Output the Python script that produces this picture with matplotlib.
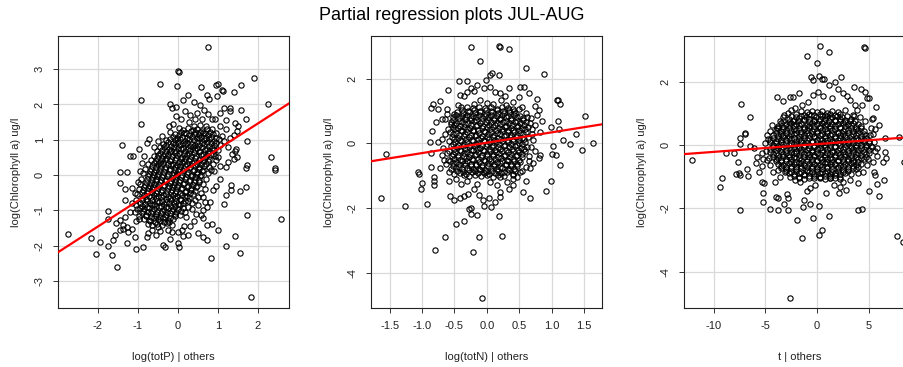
import numpy as np
import matplotlib
matplotlib.use("Agg")
import matplotlib.pyplot as plt

plt.rcParams['font.family'] = ['Liberation Sans', 'DejaVu Sans']
plt.rcParams['axes.unicode_minus'] = False

TITLE = "Partial regression plots JUL-AUG"
Y_LABEL = "log(Chlorophyll a) ug/l"

# fitted partial regression lines: (intercept, slope)
TOTP_FIT = (0.0, 0.73)
TOTN_FIT = (0.02, 0.32)
T_FIT = (0.025, 0.0245)

# residual pairs (x | others, log chl | others)
totp_pts = [
    # upper tail
    (0.76, 3.63), (0.01, 2.96), (0.03, 2.93), (1.91, 2.74), (-0.45, 2.57), (-0.03, 2.53), (0.59, 2.50),
    (0.96, 2.55), (1.00, 2.57), (1.59, 2.56), (-0.93, 2.12), (2.25, 2.01), (0.12, 2.12), (-0.20, 2.02),
    (-0.16, 1.89), (-0.04, 1.92), (0.26, 2.26), (0.72, 2.26), (0.78, 2.15), (0.97, 2.25), (1.10, 2.40),
    (1.14, 2.38), (1.41, 2.35), (1.15, 1.90), (1.30, 1.90), (1.30, 1.82), (1.59, 1.85), (1.70, 1.58),
    (1.73, 0.97), (2.33, 0.52), (2.43, 0.20), (-1.41, 0.84), (-0.93, 1.44), (-0.72, 1.03), (-0.77, 0.90),
    (-1.19, 0.55), (-1.13, 0.55), (-0.98, 0.74), (-0.22, 1.38), (-0.12, 1.44), (-0.20, 1.23), (0.08, 1.58),
    (0.27, 1.49), (0.43, 1.60), (0.60, 1.58), (0.85, 1.60), (0.93, 1.60), (1.43, 1.46), (1.50, 1.38),
    (1.47, 1.25), (1.40, 1.12), (0.40, 2.08), (0.55, 1.98), (0.48, 1.75), (0.30, 1.70), (0.18, 1.80),
    (-0.05, 1.68), (0.65, 1.85), (0.75, 1.72), (1.05, 1.75), (1.20, 1.55), (1.05, 1.40), (1.20, 1.30),
    (1.30, 1.05), (1.45, 0.75), (1.43, 0.68), (1.40, 0.45), (1.48, 0.50), (1.25, 0.80), (1.15, 0.95),
    (1.35, 0.60),
    # right / lower tail
    (1.20, 0.23), (1.25, 0.37), (1.70, 0.20), (1.74, 0.28), (2.42, 0.14), (1.70, -0.33), (1.56, -0.46),
    (1.33, -0.29), (1.33, -0.43), (1.16, -0.82), (1.20, -0.58), (1.74, -1.13), (2.57, -1.24), (1.83, -3.46),
    (0.83, -2.36), (1.20, -2.00), (1.55, -2.20), (1.44, -1.72), (1.01, -1.57), (0.89, -0.42), (0.95, -0.30),
    (1.05, -0.10), (0.90, 0.10), (1.05, 0.25), (1.00, 0.50), (0.63, -0.61), (0.68, -0.76), (0.80, -0.76),
    (0.72, -0.90), (0.63, -0.99), (0.59, -1.13), (0.63, -1.23), (0.72, -1.42), (0.63, -1.75), (0.72, -1.84),
    (0.51, -1.63), (0.26, -1.70), (0.01, -1.61), (-0.24, -1.56), (-0.49, -1.46), (-0.66, -1.56),
    (-0.74, -1.65), (-0.78, -1.77), (0.40, -1.30), (0.30, -1.45), (0.45, -1.10), (0.35, -0.95), (0.50, -0.85),
    (0.85, -1.38), (0.20, -1.20), (0.15, -1.45),
    # left tail
    (-2.74, -1.67), (-2.18, -1.79), (-2.05, -2.25), (-1.95, -1.89), (-1.74, -2.00), (-1.66, -2.27),
    (-1.53, -2.61), (-1.74, -1.02), (-1.76, -1.25), (-1.06, -2.10), (-0.87, -2.03), (-0.37, -1.99),
    (-0.33, -2.05), (0.03, -2.05), (-0.20, -1.82), (0.00, -1.92), (0.13, -1.73), (-1.08, -1.75),
    (-1.24, -1.61), (-1.37, -1.52), (-1.45, -1.56), (-1.58, -1.70), (-1.62, -1.84), (-1.28, -1.93),
    (-1.37, -1.42), (-1.28, -1.46), (-1.16, -1.52), (-1.45, -1.28), (-1.55, -1.37), (-1.45, 0.08),
    (-1.28, 0.09), (-1.45, -0.24), (-1.33, -0.41), (-1.16, -0.38), (-1.08, -0.52), (-1.33, -0.71),
    (-1.16, -0.80), (-1.20, -1.04), (-1.33, -1.18), (-1.05, -1.30), (-1.00, -0.20), (-0.95, 0.10),
    (-0.90, 0.35), (-0.85, 0.55), (-0.60, 0.80), (-0.50, 0.95), (-0.40, 1.10), (-0.55, -1.70), (-0.45, -1.60),
    (-0.15, -1.62), (0.10, -1.55), (-1.02, -0.95), (-1.05, -0.70), (-0.98, -1.15),
    # around the centre
    (0.62, -0.25), (0.70, -0.10), (0.75, 0.05), (0.82, 0.15), (0.68, -0.40), (0.58, -0.50), (0.50, -0.62),
    (0.42, -0.72), (0.35, -0.80), (0.25, -0.90), (0.88, 0.30), (0.95, 0.42), (0.92, 0.55), (1.00, 0.70),
    (1.05, 0.85), (1.10, 1.10), (0.95, 1.20), (0.85, 1.30), (0.70, 1.40), (0.55, 1.42), (0.40, 1.38),
    (-0.30, 1.00), (-0.38, 0.88), (-0.45, 0.80), (-0.52, 0.68), (-0.60, 0.55), (-0.68, 0.42), (-0.75, 0.30),
    (-0.82, 0.18), (-0.88, 0.05), (-0.92, -0.10), (-0.95, -0.25), (-0.98, -0.40), (-1.02, -0.55),
    (-1.05, -0.85), (-1.08, -1.05), (-0.98, -1.25), (0.18, -1.05), (0.25, -0.75), (0.38, -0.55),
    # dense centre
    (0.02, 1.32), (0.14, 1.27), (0.26, 1.33), (0.37, 1.28), (0.49, 1.31), (0.61, 1.26), (0.73, 1.30),
    (0.08, 1.23), (0.20, 1.20), (0.32, 1.24), (0.44, 1.21), (0.56, 1.22), (0.68, 1.19), (0.80, 1.23),
    (-0.08, 1.17), (0.04, 1.13), (0.16, 1.18), (0.28, 1.12), (0.40, 1.16), (0.52, 1.14), (0.64, 1.19),
    (0.76, 1.12), (0.88, 1.16),
    (-0.13, 1.08), (-0.01, 1.05), (0.11, 1.09), (0.23, 1.06), (0.35, 1.07), (0.47, 1.04), (0.59, 1.08),
    (0.71, 1.06), (0.83, 1.09), (0.95, 1.05),
    (-0.19, 1.02), (-0.07, 0.98), (0.05, 1.03), (0.17, 0.97), (0.29, 1.01), (0.41, 0.99), (0.53, 1.04),
    (0.65, 0.98), (0.77, 1.02), (0.90, 0.97), (1.02, 1.01),
    (-0.24, 0.93), (-0.12, 0.90), (0.00, 0.94), (0.12, 0.91), (0.24, 0.92), (0.36, 0.89), (0.48, 0.93),
    (0.60, 0.91), (0.72, 0.94), (0.84, 0.90), (0.96, 0.92),
    (-0.30, 0.86), (-0.18, 0.83), (-0.06, 0.88), (0.06, 0.84), (0.18, 0.87), (0.30, 0.82), (0.42, 0.86),
    (0.54, 0.84), (0.66, 0.88), (0.78, 0.83), (0.90, 0.86),
    (-0.35, 0.78), (-0.23, 0.75), (-0.11, 0.79), (0.01, 0.76), (0.13, 0.77), (0.25, 0.74), (0.37, 0.78),
    (0.49, 0.76), (0.61, 0.79), (0.73, 0.75), (0.85, 0.77),
    (-0.41, 0.71), (-0.29, 0.68), (-0.17, 0.72), (-0.05, 0.69), (0.07, 0.73), (0.19, 0.67), (0.31, 0.71),
    (0.43, 0.70), (0.55, 0.68), (0.67, 0.72), (0.79, 0.69), (0.91, 0.71),
    (-0.44, 0.63), (-0.32, 0.60), (-0.20, 0.64), (-0.08, 0.61), (0.04, 0.62), (0.16, 0.59), (0.28, 0.63),
    (0.40, 0.61), (0.52, 0.64), (0.64, 0.60), (0.76, 0.62), (0.88, 0.60),
    (-0.50, 0.56), (-0.38, 0.53), (-0.26, 0.57), (-0.14, 0.54), (-0.02, 0.58), (0.10, 0.52), (0.22, 0.56),
    (0.34, 0.55), (0.46, 0.53), (0.58, 0.57), (0.70, 0.54), (0.82, 0.56),
    (-0.53, 0.48), (-0.41, 0.45), (-0.29, 0.49), (-0.17, 0.46), (-0.05, 0.47), (0.07, 0.44), (0.19, 0.48),
    (0.31, 0.46), (0.43, 0.49), (0.55, 0.45), (0.67, 0.47), (0.79, 0.45),
    (-0.56, 0.41), (-0.44, 0.38), (-0.32, 0.42), (-0.20, 0.39), (-0.08, 0.43), (0.04, 0.37), (0.16, 0.41),
    (0.28, 0.40), (0.40, 0.38), (0.52, 0.42), (0.64, 0.39), (0.76, 0.41),
    (-0.61, 0.33), (-0.49, 0.30), (-0.37, 0.34), (-0.25, 0.31), (-0.13, 0.32), (-0.01, 0.29), (0.11, 0.33),
    (0.23, 0.31), (0.35, 0.34), (0.47, 0.30), (0.59, 0.32), (0.71, 0.30),
    (-0.66, 0.26), (-0.54, 0.23), (-0.42, 0.27), (-0.30, 0.24), (-0.18, 0.28), (-0.06, 0.22), (0.06, 0.26),
    (0.18, 0.25), (0.30, 0.23), (0.42, 0.27), (0.54, 0.24), (0.66, 0.26), (0.78, 0.22),
    (-0.68, 0.18), (-0.56, 0.15), (-0.44, 0.19), (-0.32, 0.16), (-0.20, 0.17), (-0.08, 0.14), (0.04, 0.18),
    (0.16, 0.16), (0.28, 0.19), (0.40, 0.15), (0.52, 0.17), (0.64, 0.15),
    (-0.71, 0.11), (-0.59, 0.08), (-0.47, 0.12), (-0.35, 0.09), (-0.23, 0.13), (-0.11, 0.07), (0.01, 0.11),
    (0.13, 0.10), (0.25, 0.08), (0.37, 0.12), (0.49, 0.09), (0.61, 0.11),
    (-0.73, 0.03), (-0.61, 0.00), (-0.49, 0.04), (-0.37, 0.01), (-0.25, 0.02), (-0.13, -0.01), (-0.01, 0.03),
    (0.11, 0.01), (0.23, 0.04), (0.35, 0.00), (0.47, 0.02), (0.59, 0.00),
    (-0.76, -0.04), (-0.64, -0.07), (-0.52, -0.03), (-0.40, -0.06), (-0.28, -0.02), (-0.16, -0.08),
    (-0.04, -0.04), (0.08, -0.05), (0.20, -0.07), (0.32, -0.03), (0.44, -0.06), (0.56, -0.04),
    (-0.78, -0.12), (-0.66, -0.15), (-0.54, -0.11), (-0.42, -0.14), (-0.30, -0.13), (-0.18, -0.16),
    (-0.06, -0.12), (0.06, -0.14), (0.18, -0.11), (0.30, -0.15), (0.42, -0.13), (0.54, -0.15),
    (-0.80, -0.19), (-0.68, -0.22), (-0.56, -0.18), (-0.44, -0.21), (-0.32, -0.17), (-0.20, -0.23),
    (-0.08, -0.19), (0.04, -0.20), (0.16, -0.22), (0.28, -0.18), (0.40, -0.21), (0.52, -0.19),
    (-0.83, -0.27), (-0.71, -0.30), (-0.59, -0.26), (-0.47, -0.29), (-0.35, -0.28), (-0.23, -0.31),
    (-0.11, -0.27), (0.01, -0.29), (0.13, -0.26), (0.25, -0.30), (0.37, -0.28), (0.49, -0.30),
    (-0.86, -0.34), (-0.74, -0.37), (-0.62, -0.33), (-0.50, -0.36), (-0.38, -0.32), (-0.26, -0.38),
    (-0.14, -0.34), (-0.02, -0.35), (0.10, -0.37), (0.22, -0.33), (0.34, -0.36), (0.46, -0.34),
    (-0.88, -0.42), (-0.76, -0.45), (-0.64, -0.41), (-0.52, -0.44), (-0.40, -0.43), (-0.28, -0.46),
    (-0.16, -0.42), (-0.04, -0.44), (0.08, -0.41), (0.20, -0.45), (0.32, -0.43), (0.42, -0.45),
    (-0.90, -0.49), (-0.78, -0.52), (-0.66, -0.48), (-0.54, -0.51), (-0.42, -0.47), (-0.30, -0.53),
    (-0.18, -0.49), (-0.06, -0.50), (0.06, -0.52), (0.18, -0.48), (0.30, -0.51),
    (-0.85, -0.57), (-0.73, -0.60), (-0.61, -0.56), (-0.49, -0.59), (-0.37, -0.58), (-0.25, -0.61),
    (-0.13, -0.57), (-0.01, -0.59), (0.11, -0.56), (0.23, -0.60),
    (-0.91, -0.64), (-0.79, -0.67), (-0.67, -0.63), (-0.55, -0.66), (-0.43, -0.62), (-0.31, -0.68),
    (-0.19, -0.64), (-0.07, -0.65), (0.05, -0.67), (0.17, -0.63), (0.29, -0.66),
    (-0.89, -0.72), (-0.77, -0.75), (-0.65, -0.71), (-0.53, -0.74), (-0.41, -0.73), (-0.29, -0.76),
    (-0.17, -0.72), (-0.05, -0.74), (0.07, -0.71), (0.19, -0.75),
    (-0.95, -0.79), (-0.83, -0.82), (-0.71, -0.78), (-0.59, -0.81), (-0.47, -0.77), (-0.35, -0.83),
    (-0.23, -0.79), (-0.11, -0.80), (0.01, -0.82), (0.13, -0.78),
    (-0.90, -0.87), (-0.78, -0.90), (-0.66, -0.86), (-0.54, -0.89), (-0.42, -0.88), (-0.30, -0.91),
    (-0.18, -0.87), (-0.06, -0.89), (0.06, -0.86),
    (-0.96, -0.94), (-0.84, -0.97), (-0.72, -0.93), (-0.60, -0.96), (-0.48, -0.92), (-0.36, -0.98),
    (-0.24, -0.94), (-0.12, -0.95), (0.00, -0.97), (0.12, -0.93),
    (-0.88, -1.02), (-0.76, -1.05), (-0.64, -1.01), (-0.52, -1.04), (-0.40, -1.03), (-0.28, -1.06),
    (-0.16, -1.02), (-0.04, -1.04), (0.08, -1.01),
    (-0.91, -1.09), (-0.79, -1.12), (-0.67, -1.08), (-0.55, -1.11), (-0.43, -1.07), (-0.31, -1.13),
    (-0.19, -1.09), (-0.07, -1.10), (0.05, -1.12),
    (-0.80, -1.17), (-0.68, -1.20), (-0.56, -1.16), (-0.44, -1.19), (-0.32, -1.18), (-0.20, -1.21),
    (-0.08, -1.17),
    (-0.85, -1.24), (-0.73, -1.27), (-0.61, -1.23), (-0.49, -1.26), (-0.37, -1.22), (-0.25, -1.28),
    (-0.13, -1.24),
    (-0.70, -1.31), (-0.58, -1.34), (-0.46, -1.30), (-0.34, -1.33), (-0.22, -1.32),
    (-0.76, -1.39), (-0.64, -1.42), (-0.52, -1.38), (-0.40, -1.41), (-0.28, -1.37), (-0.16, -1.43),
]

totn_pts = [
    (-0.25, 2.99), (0.19, 3.00), (0.20, 2.98), (0.34, 2.91), (-0.10, 2.55), (0.60, 2.32), (0.89, 2.14),
    (0.19, 2.11), (0.08, 2.18), (0.05, 2.11), (-0.43, 1.93), (-0.31, 1.93), (-0.02, 1.96), (-0.60, 1.65),
    (-0.76, 1.05), (-0.87, 1.08), (-0.83, 1.22), (-0.73, 1.32), (-0.62, 1.07), (-0.70, 0.75), (-0.78, 0.65),
    (-0.85, 0.37), (-0.88, 0.03), (-1.56, -0.33), (-1.64, -1.70), (-1.27, -1.93), (-0.93, -1.87),
    (-1.06, -0.90), (-1.05, -0.95), (-1.00, -1.24), (-1.01, -1.41), (-0.81, -1.03), (-0.82, -1.16),
    (-0.81, -1.29), (-0.87, -0.31), (-0.86, -0.72), (-0.72, -0.77), (-0.80, -3.30), (-0.65, -2.91),
    (-0.47, -2.49), (-0.36, -2.39), (-0.22, -3.36), (-0.12, -2.88), (0.23, -2.85), (0.19, -2.23),
    (-0.08, -4.77), (-0.25, -2.19), (-0.15, -2.20), (-0.27, -2.04), (-0.25, -1.99), (-0.05, -1.94),
    (-0.06, -1.75), (0.03, -1.68), (0.06, -1.96), (0.12, -1.80), (0.20, -1.65), (0.20, -1.49),
    (-0.50, -1.75), (-0.42, -1.68), (-0.35, -1.62), (-0.57, -1.63), (-0.29, -1.55), (-0.12, -1.60),
    (0.56, -1.49), (0.66, -1.70), (0.92, -1.46), (0.99, -1.15), (0.60, -1.15), (0.41, -1.29), (0.31, -1.19),
    (1.13, -0.66), (1.07, -0.36), (1.01, -0.33), (1.02, -0.07), (1.17, 0.10), (1.28, -0.03), (1.47, -0.20),
    (1.64, 0.00), (1.38, 0.28), (1.52, 0.85), (1.10, 0.68), (1.11, 0.43), (0.99, 0.52), (1.09, 1.35),
    (1.10, 1.33), (1.13, 1.22), (0.65, 1.57), (0.77, 1.37), (0.74, 1.15), (0.81, 1.03), (0.77, 0.87),
    (0.86, 0.70), (0.51, 1.74), (0.58, 1.74), (0.34, 1.72), (0.49, 1.42), (0.41, 1.27), (0.54, 1.12),
    (0.62, 0.82), (0.75, 0.57), (0.82, 0.36), (0.80, -0.46), (0.82, -0.36), (0.72, -0.62), (0.67, -0.75),
    (0.51, -0.88), (0.41, -0.98), (0.46, -1.03), (0.21, -1.03),
    (-0.55, 0.60), (-0.60, 0.45), (-0.65, 0.30), (-0.70, 0.15), (-0.75, 0.05), (-0.68, -0.15),
    (-0.70, -0.35), (-0.60, -0.50), (-0.63, -0.65), (-0.55, -0.80), (-0.58, -1.15), (-0.48, -1.10),
    (-0.45, 1.20), (-0.50, 0.90), (-0.42, 1.50), (-0.35, 1.45), (-0.30, 1.60), (-0.25, 1.70), (-0.20, 1.62),
    (-0.15, 1.80), (-0.05, 1.70), (0.05, 1.75), (0.12, 1.58), (0.20, 1.55), (0.28, 1.45), (0.22, 1.35),
    (0.70, 0.30), (0.72, 0.10), (0.68, -0.10), (0.75, -0.25), (0.70, 0.45), (0.65, -0.40), (-0.10, 1.35),
    (0.00, 1.25), (0.40, 1.05), (-0.40, -1.25), (-0.30, -1.15), (-0.15, -1.25), (0.05, -1.20), (0.15, -1.30),
    (-0.20, -1.40), (0.35, -1.40),
    # around the centre
    (-0.62, 0.90), (-0.64, 0.75), (-0.62, -0.30), (-0.66, -0.50), (0.66, 0.62), (0.68, 0.80), (0.60, 0.95),
    (0.50, 1.05), (0.65, -0.55), (0.60, -0.72), (0.55, -0.85), (-0.50, -0.95), (-0.58, -0.90), (0.40, -1.10),
    (0.30, 1.20), (-0.40, 1.12), (0.10, 1.22), (-0.20, 1.22),
    # dense centre
    (-0.30, 1.12), (-0.21, 1.08), (-0.12, 1.13), (-0.03, 1.09), (0.06, 1.11), (0.15, 1.07), (0.24, 1.12),
    (0.33, 1.09),
    (-0.38, 1.03), (-0.29, 1.00), (-0.20, 1.04), (-0.11, 1.01), (-0.02, 1.02), (0.07, 0.99), (0.16, 1.03),
    (0.25, 1.01), (0.34, 1.04), (0.42, 1.00),
    (-0.46, 0.96), (-0.37, 0.93), (-0.28, 0.97), (-0.19, 0.94), (-0.10, 0.98), (-0.01, 0.92), (0.08, 0.96),
    (0.17, 0.95), (0.26, 0.93), (0.35, 0.97), (0.44, 0.94),
    (-0.48, 0.88), (-0.39, 0.85), (-0.30, 0.89), (-0.21, 0.86), (-0.12, 0.87), (-0.03, 0.84), (0.06, 0.88),
    (0.15, 0.86), (0.24, 0.89), (0.33, 0.85), (0.42, 0.87), (0.51, 0.85),
    (-0.52, 0.81), (-0.43, 0.78), (-0.34, 0.82), (-0.25, 0.79), (-0.16, 0.83), (-0.07, 0.77), (0.02, 0.81),
    (0.11, 0.80), (0.20, 0.78), (0.29, 0.82), (0.38, 0.79), (0.47, 0.81), (0.56, 0.77),
    (-0.52, 0.73), (-0.43, 0.70), (-0.34, 0.74), (-0.25, 0.71), (-0.16, 0.72), (-0.07, 0.69), (0.02, 0.73),
    (0.11, 0.71), (0.20, 0.74), (0.29, 0.70), (0.38, 0.72), (0.47, 0.70), (0.56, 0.73),
    (-0.56, 0.66), (-0.47, 0.63), (-0.38, 0.67), (-0.29, 0.64), (-0.20, 0.68), (-0.11, 0.62), (-0.02, 0.66),
    (0.07, 0.65), (0.16, 0.63), (0.25, 0.67), (0.34, 0.64), (0.43, 0.66), (0.52, 0.62), (0.61, 0.65),
    (-0.51, 0.58), (-0.42, 0.55), (-0.33, 0.59), (-0.24, 0.56), (-0.15, 0.57), (-0.06, 0.54), (0.03, 0.58),
    (0.12, 0.56), (0.21, 0.59), (0.30, 0.55), (0.39, 0.57), (0.48, 0.55), (0.57, 0.58),
    (-0.53, 0.51), (-0.44, 0.48), (-0.35, 0.52), (-0.26, 0.49), (-0.17, 0.53), (-0.08, 0.47), (0.01, 0.51),
    (0.10, 0.50), (0.19, 0.48), (0.28, 0.52), (0.37, 0.49), (0.46, 0.51), (0.55, 0.47), (0.64, 0.50),
    (-0.49, 0.43), (-0.40, 0.40), (-0.31, 0.44), (-0.22, 0.41), (-0.13, 0.42), (-0.04, 0.39), (0.05, 0.43),
    (0.14, 0.41), (0.23, 0.44), (0.32, 0.40), (0.41, 0.42), (0.50, 0.40), (0.59, 0.43),
    (-0.57, 0.36), (-0.48, 0.33), (-0.39, 0.37), (-0.30, 0.34), (-0.21, 0.38), (-0.12, 0.32), (-0.03, 0.36),
    (0.06, 0.35), (0.15, 0.33), (0.24, 0.37), (0.33, 0.34), (0.42, 0.36), (0.51, 0.32), (0.60, 0.35),
    (-0.52, 0.28), (-0.43, 0.25), (-0.34, 0.29), (-0.25, 0.26), (-0.16, 0.27), (-0.07, 0.24), (0.02, 0.28),
    (0.11, 0.26), (0.20, 0.29), (0.29, 0.25), (0.38, 0.27), (0.47, 0.25), (0.56, 0.28),
    (-0.54, 0.21), (-0.45, 0.18), (-0.36, 0.22), (-0.27, 0.19), (-0.18, 0.23), (-0.09, 0.17), (0.00, 0.21),
    (0.09, 0.20), (0.18, 0.18), (0.27, 0.22), (0.36, 0.19), (0.45, 0.21), (0.54, 0.17), (0.63, 0.20),
    (-0.50, 0.13), (-0.41, 0.10), (-0.32, 0.14), (-0.23, 0.11), (-0.14, 0.12), (-0.05, 0.09), (0.04, 0.13),
    (0.13, 0.11), (0.22, 0.14), (0.31, 0.10), (0.40, 0.12), (0.49, 0.10), (0.58, 0.13),
    (-0.58, 0.06), (-0.49, 0.03), (-0.40, 0.07), (-0.31, 0.04), (-0.22, 0.08), (-0.13, 0.02), (-0.04, 0.06),
    (0.05, 0.05), (0.14, 0.03), (0.23, 0.07), (0.32, 0.04), (0.41, 0.06), (0.50, 0.02), (0.59, 0.05),
    (-0.53, -0.02), (-0.44, -0.05), (-0.35, -0.01), (-0.26, -0.04), (-0.17, -0.03), (-0.08, -0.06),
    (0.01, -0.02), (0.10, -0.04), (0.19, -0.01), (0.28, -0.05), (0.37, -0.03), (0.46, -0.05), (0.55, -0.02),
    (-0.55, -0.09), (-0.46, -0.12), (-0.37, -0.08), (-0.28, -0.11), (-0.19, -0.07), (-0.10, -0.13),
    (-0.01, -0.09), (0.08, -0.10), (0.17, -0.12), (0.26, -0.08), (0.35, -0.11), (0.44, -0.09), (0.53, -0.13),
    (0.62, -0.10),
    (-0.51, -0.17), (-0.42, -0.20), (-0.33, -0.16), (-0.24, -0.19), (-0.15, -0.18), (-0.06, -0.21),
    (0.03, -0.17), (0.12, -0.19), (0.21, -0.16), (0.30, -0.20), (0.39, -0.18), (0.48, -0.20), (0.57, -0.17),
    (-0.58, -0.24), (-0.49, -0.27), (-0.40, -0.23), (-0.31, -0.26), (-0.22, -0.22), (-0.13, -0.28),
    (-0.04, -0.24), (0.05, -0.25), (0.14, -0.27), (0.23, -0.23), (0.32, -0.26), (0.41, -0.24), (0.50, -0.28),
    (0.59, -0.25),
    (-0.53, -0.32), (-0.44, -0.35), (-0.35, -0.31), (-0.26, -0.34), (-0.17, -0.33), (-0.08, -0.36),
    (0.01, -0.32), (0.10, -0.34), (0.19, -0.31), (0.28, -0.35), (0.37, -0.33), (0.46, -0.35), (0.55, -0.32),
    (-0.54, -0.39), (-0.45, -0.42), (-0.36, -0.38), (-0.27, -0.41), (-0.18, -0.37), (-0.09, -0.43),
    (0.00, -0.39), (0.09, -0.40), (0.18, -0.42), (0.27, -0.38), (0.36, -0.41), (0.45, -0.39), (0.54, -0.43),
    (-0.50, -0.47), (-0.41, -0.50), (-0.32, -0.46), (-0.23, -0.49), (-0.14, -0.48), (-0.05, -0.51),
    (0.04, -0.47), (0.13, -0.49), (0.22, -0.46), (0.31, -0.50), (0.40, -0.48), (0.49, -0.50),
    (-0.57, -0.54), (-0.48, -0.57), (-0.39, -0.53), (-0.30, -0.56), (-0.21, -0.52), (-0.12, -0.58),
    (-0.03, -0.54), (0.06, -0.55), (0.15, -0.57), (0.24, -0.53), (0.33, -0.56), (0.42, -0.54), (0.51, -0.58),
    (-0.52, -0.62), (-0.43, -0.65), (-0.34, -0.61), (-0.25, -0.64), (-0.16, -0.63), (-0.07, -0.66),
    (0.02, -0.62), (0.11, -0.64), (0.20, -0.61), (0.29, -0.65), (0.38, -0.63), (0.47, -0.65),
    (-0.52, -0.69), (-0.43, -0.72), (-0.34, -0.68), (-0.25, -0.71), (-0.16, -0.67), (-0.07, -0.73),
    (0.02, -0.69), (0.11, -0.70), (0.20, -0.72), (0.29, -0.68), (0.38, -0.71), (0.47, -0.69),
    (-0.48, -0.77), (-0.39, -0.80), (-0.30, -0.76), (-0.21, -0.79), (-0.12, -0.78), (-0.03, -0.81),
    (0.06, -0.77), (0.15, -0.79), (0.24, -0.76), (0.33, -0.80), (0.42, -0.78),
    (-0.46, -0.84), (-0.37, -0.87), (-0.28, -0.83), (-0.19, -0.86), (-0.10, -0.82), (-0.01, -0.88),
    (0.08, -0.84), (0.17, -0.85), (0.26, -0.87), (0.35, -0.83), (0.44, -0.86),
    (-0.41, -0.91), (-0.32, -0.94), (-0.23, -0.90), (-0.14, -0.93), (-0.05, -0.92), (0.04, -0.95),
    (0.13, -0.91), (0.22, -0.93), (0.31, -0.90), (0.40, -0.94),
    (-0.36, -0.99), (-0.27, -1.02), (-0.18, -0.98), (-0.09, -1.01), (0.00, -0.97), (0.09, -1.03),
    (0.18, -0.99), (0.27, -1.00),
]

t_pts = [
    (0.32, 3.11), (4.65, 3.07), (4.58, 3.09), (1.13, 2.95), (-0.94, 2.81), (0.03, 2.58), (0.23, 2.19),
    (-0.58, 2.13), (-0.35, 2.05), (0.52, 2.08), (0.71, 2.08), (2.32, 2.14), (1.16, 1.89), (1.77, 2.00),
    (2.06, 1.76), (3.58, 1.84), (4.23, 1.76), (4.68, 1.68), (4.84, 1.49), (5.00, 1.49), (5.68, 1.19),
    (4.39, 1.26), (-3.84, 1.51), (-3.32, 1.39), (-2.60, 1.51), (-2.30, 1.51), (-1.71, 1.65), (-7.35, 1.28),
    (-6.45, 0.88), (-7.00, 0.38), (-6.94, 0.36), (-7.48, 0.23), (-7.42, 0.02), (-8.06, -0.24),
    (-8.81, -0.25), (-12.10, -0.48), (-7.68, -0.55), (-7.55, -0.89), (-7.81, -0.93), (-7.42, -0.95),
    (-6.74, -0.77), (-6.65, -0.98), (-9.19, -1.05), (-9.42, -1.33), (-7.48, -2.06), (-6.48, -0.02),
    (-6.06, -0.11), (-5.35, -0.26), (-5.84, -0.37), (-5.90, -0.58), (-5.19, -0.46), (-5.29, -0.66),
    (-5.65, -0.84), (-5.32, -1.16), (-5.13, -1.19), (-5.23, -1.53), (-5.23, -1.80), (-4.52, -2.01),
    (-3.74, -2.07), (-4.03, -1.16), (-4.00, -1.66), (-3.74, -1.68), (-3.19, -1.87), (-2.87, -1.56),
    (-2.77, -1.68), (-2.84, -2.05), (-1.90, -2.38), (-1.48, -2.95), (-2.61, -4.82), (-1.26, -1.74),
    (-1.35, -1.95), (-0.68, -1.85), (-0.39, -2.32), (0.16, -1.93), (0.23, -2.86), (0.48, -2.69),
    (1.16, -2.25), (0.84, -1.53), (2.10, -1.51), (2.77, -1.41), (4.00, -1.19), (4.00, -2.07), (4.32, -2.02),
    (5.00, -1.44), (5.55, -0.85), (5.61, -0.95), (5.84, -1.24), (6.03, -1.62), (6.52, -1.12), (6.58, -0.21),
    (6.68, -0.42), (6.35, -0.53), (6.03, 0.63), (6.61, 0.21), (7.94, 0.24), (7.71, -2.87), (8.35, -3.08),
    (8.40, -0.55), (5.45, 0.86), (5.29, 0.81), (5.61, 0.51), (5.13, 0.32), (5.29, -0.05), (5.77, -0.11),
    (5.84, -0.35), (5.45, -0.53), (4.81, -0.63), (4.48, -0.84), (4.00, -0.89), (3.19, -1.10), (2.55, -1.16),
    (2.23, -1.32), (1.65, -1.26), (1.26, -1.05), (0.29, -1.05), (-0.19, -1.26), (-0.68, -1.37),
    (-1.00, -1.47), (-1.65, -1.16), (-2.13, -1.10), (-2.61, -1.00), (-3.10, -0.84), (-3.58, -1.00),
    (-4.23, -0.84), (-4.55, -0.63), (-4.87, -0.47), (-4.87, 0.32), (-4.55, 0.44), (-4.39, 0.63),
    (-3.90, 0.53), (-3.58, 0.74), (-3.26, 0.89), (-2.77, 1.00), (-2.13, 1.16), (-1.48, 1.26), (-0.84, 1.37),
    (-0.35, 1.58), (0.13, 1.68), (0.61, 1.53), (1.42, 1.47), (2.55, 1.63), (2.87, 1.53), (3.19, 1.42),
    (3.68, 1.26), (3.84, 1.11), (4.16, 0.89), (4.65, 0.74), (3.52, 0.95),
    # around the centre
    (-5.00, 0.05), (-4.90, -0.20), (-4.70, 0.20), (5.50, 0.10), (5.60, -0.20), (5.40, 0.35), (5.20, 0.55),
    (-4.60, -0.40), (4.90, -0.45), (-3.20, 0.95), (3.60, 0.90), (-3.80, -0.80), (3.80, -0.75), (-2.50, 1.10),
    (2.70, 1.10),
    # dense centre
    (-1.50, 1.06), (-1.00, 1.03), (-0.50, 1.07), (0.00, 1.04), (0.50, 1.08), (1.00, 1.02), (1.50, 1.06),
    (2.00, 1.04),
    (-2.00, 0.98), (-1.25, 0.95), (-0.75, 0.99), (-0.25, 0.96), (0.25, 0.97), (0.75, 0.94), (1.25, 0.98),
    (1.75, 0.96), (2.25, 0.99),
    (-2.50, 0.91), (-2.05, 0.88), (-1.55, 0.92), (-1.05, 0.89), (-0.55, 0.93), (-0.05, 0.87), (0.45, 0.91),
    (0.95, 0.90), (1.45, 0.88), (1.95, 0.92), (2.45, 0.89), (2.95, 0.91),
    (-2.75, 0.83), (-2.25, 0.80), (-1.75, 0.84), (-1.25, 0.81), (-0.75, 0.82), (-0.25, 0.79), (0.25, 0.83),
    (0.75, 0.81), (1.25, 0.84), (1.75, 0.80), (2.25, 0.82), (2.75, 0.80), (3.25, 0.83),
    (-3.25, 0.76), (-2.75, 0.73), (-2.30, 0.77), (-1.80, 0.74), (-1.30, 0.78), (-0.80, 0.72), (-0.30, 0.76),
    (0.20, 0.75), (0.70, 0.73), (1.20, 0.77), (1.70, 0.74), (2.20, 0.76), (2.70, 0.72), (3.20, 0.75),
    (3.70, 0.77),
    (-3.50, 0.68), (-3.00, 0.65), (-2.50, 0.69), (-2.00, 0.66), (-1.50, 0.67), (-1.00, 0.64), (-0.50, 0.68),
    (0.00, 0.66), (0.50, 0.69), (1.00, 0.65), (1.50, 0.67), (2.00, 0.65), (2.50, 0.68), (3.00, 0.66),
    (3.50, 0.69), (4.00, 0.65),
    (-3.75, 0.61), (-3.25, 0.58), (-2.75, 0.62), (-2.25, 0.59), (-1.75, 0.63), (-1.25, 0.57), (-0.75, 0.61),
    (-0.25, 0.60), (0.25, 0.58), (0.75, 0.62), (1.25, 0.59), (1.75, 0.61), (2.25, 0.57), (2.75, 0.60),
    (3.25, 0.62), (3.75, 0.58), (4.25, 0.61),
    (-3.75, 0.53), (-3.25, 0.50), (-2.75, 0.54), (-2.25, 0.51), (-1.75, 0.52), (-1.25, 0.49), (-0.75, 0.53),
    (-0.25, 0.51), (0.25, 0.54), (0.75, 0.50), (1.25, 0.52), (1.75, 0.50), (2.25, 0.53), (2.75, 0.51),
    (3.25, 0.54), (3.75, 0.50), (4.25, 0.52),
    (-4.00, 0.46), (-3.50, 0.43), (-3.00, 0.47), (-2.50, 0.44), (-2.00, 0.48), (-1.50, 0.42), (-1.00, 0.46),
    (-0.50, 0.45), (0.00, 0.43), (0.50, 0.47), (1.00, 0.44), (1.50, 0.46), (2.00, 0.42), (2.50, 0.45),
    (3.00, 0.47), (3.50, 0.43), (4.00, 0.46), (4.50, 0.44),
    (-4.00, 0.38), (-3.50, 0.35), (-3.00, 0.39), (-2.50, 0.36), (-2.00, 0.37), (-1.50, 0.34), (-1.00, 0.38),
    (-0.50, 0.36), (0.00, 0.39), (0.50, 0.35), (1.00, 0.37), (1.50, 0.35), (2.00, 0.38), (2.50, 0.36),
    (3.00, 0.39), (3.50, 0.35), (4.00, 0.37), (4.50, 0.35),
    (-4.25, 0.31), (-3.75, 0.28), (-3.25, 0.32), (-2.75, 0.29), (-2.25, 0.33), (-1.75, 0.27), (-1.25, 0.31),
    (-0.75, 0.30), (-0.25, 0.28), (0.25, 0.32), (0.75, 0.29), (1.25, 0.31), (1.75, 0.27), (2.25, 0.30),
    (2.75, 0.32), (3.25, 0.28), (3.75, 0.31), (4.25, 0.29), (4.75, 0.31),
    (-4.25, 0.23), (-3.75, 0.20), (-3.25, 0.24), (-2.75, 0.21), (-2.25, 0.22), (-1.75, 0.19), (-1.25, 0.23),
    (-0.75, 0.21), (-0.25, 0.24), (0.25, 0.20), (0.75, 0.22), (1.25, 0.20), (1.75, 0.23), (2.25, 0.21),
    (2.75, 0.24), (3.25, 0.20), (3.75, 0.22), (4.25, 0.20), (4.75, 0.23),
    (-4.50, 0.16), (-4.00, 0.13), (-3.50, 0.17), (-3.00, 0.14), (-2.50, 0.18), (-2.00, 0.12), (-1.50, 0.16),
    (-1.00, 0.15), (-0.50, 0.13), (0.00, 0.17), (0.50, 0.14), (1.00, 0.16), (1.50, 0.12), (2.00, 0.15),
    (2.50, 0.17), (3.00, 0.13), (3.50, 0.16), (4.00, 0.14), (4.50, 0.16), (5.00, 0.13),
    (-4.50, 0.08), (-4.00, 0.05), (-3.50, 0.09), (-3.00, 0.06), (-2.50, 0.07), (-2.00, 0.04), (-1.50, 0.08),
    (-1.00, 0.06), (-0.50, 0.09), (0.00, 0.05), (0.50, 0.07), (1.00, 0.05), (1.50, 0.08), (2.00, 0.06),
    (2.50, 0.09), (3.00, 0.05), (3.50, 0.07), (4.00, 0.05), (4.50, 0.08), (5.00, 0.06),
    (-4.25, 0.01), (-3.75, -0.02), (-3.25, 0.02), (-2.75, -0.01), (-2.25, 0.03), (-1.75, -0.03),
    (-1.25, 0.01), (-0.75, 0.00), (-0.25, -0.02), (0.25, 0.02), (0.75, -0.01), (1.25, 0.01), (1.75, -0.03),
    (2.25, 0.00), (2.75, 0.02), (3.25, -0.02), (3.75, 0.01), (4.25, -0.01), (4.75, 0.01), (5.25, -0.02),
    (-4.25, -0.07), (-3.75, -0.10), (-3.25, -0.06), (-2.75, -0.09), (-2.25, -0.08), (-1.75, -0.11),
    (-1.25, -0.07), (-0.75, -0.09), (-0.25, -0.06), (0.25, -0.10), (0.75, -0.08), (1.25, -0.10),
    (1.75, -0.07), (2.25, -0.09), (2.75, -0.06), (3.25, -0.10), (3.75, -0.08), (4.25, -0.10), (4.75, -0.07),
    (-4.50, -0.14), (-4.00, -0.17), (-3.50, -0.13), (-3.00, -0.16), (-2.50, -0.12), (-2.00, -0.18),
    (-1.50, -0.14), (-1.00, -0.15), (-0.50, -0.17), (0.00, -0.13), (0.50, -0.16), (1.00, -0.14),
    (1.50, -0.18), (2.00, -0.15), (2.50, -0.13), (3.00, -0.17), (3.50, -0.14), (4.00, -0.16), (4.50, -0.14),
    (5.00, -0.17),
    (-4.50, -0.22), (-4.00, -0.25), (-3.50, -0.21), (-3.00, -0.24), (-2.50, -0.23), (-2.00, -0.26),
    (-1.50, -0.22), (-1.00, -0.24), (-0.50, -0.21), (0.00, -0.25), (0.50, -0.23), (1.00, -0.25),
    (1.50, -0.22), (2.00, -0.24), (2.50, -0.21), (3.00, -0.25), (3.50, -0.23), (4.00, -0.25), (4.50, -0.22),
    (5.00, -0.24),
    (-4.25, -0.29), (-3.75, -0.32), (-3.25, -0.28), (-2.75, -0.31), (-2.25, -0.27), (-1.75, -0.33),
    (-1.25, -0.29), (-0.75, -0.30), (-0.25, -0.32), (0.25, -0.28), (0.75, -0.31), (1.25, -0.29),
    (1.75, -0.33), (2.25, -0.30), (2.75, -0.28), (3.25, -0.32), (3.75, -0.29), (4.25, -0.31), (4.75, -0.29),
    (-4.25, -0.37), (-3.75, -0.40), (-3.25, -0.36), (-2.75, -0.39), (-2.25, -0.38), (-1.75, -0.41),
    (-1.25, -0.37), (-0.75, -0.39), (-0.25, -0.36), (0.25, -0.40), (0.75, -0.38), (1.25, -0.40),
    (1.75, -0.37), (2.25, -0.39), (2.75, -0.36), (3.25, -0.40), (3.75, -0.38), (4.25, -0.40), (4.75, -0.37),
    (-4.00, -0.44), (-3.50, -0.47), (-3.00, -0.43), (-2.50, -0.46), (-2.00, -0.42), (-1.50, -0.48),
    (-1.00, -0.44), (-0.50, -0.45), (0.00, -0.47), (0.50, -0.43), (1.00, -0.46), (1.50, -0.44),
    (2.00, -0.48), (2.50, -0.45), (3.00, -0.43), (3.50, -0.47), (4.00, -0.44), (4.50, -0.46),
    (-4.00, -0.52), (-3.50, -0.55), (-3.00, -0.51), (-2.50, -0.54), (-2.00, -0.53), (-1.50, -0.56),
    (-1.00, -0.52), (-0.50, -0.54), (0.00, -0.51), (0.50, -0.55), (1.00, -0.53), (1.50, -0.55),
    (2.00, -0.52), (2.50, -0.54), (3.00, -0.51), (3.50, -0.55), (4.00, -0.53),
    (-3.75, -0.59), (-3.25, -0.62), (-2.75, -0.58), (-2.25, -0.61), (-1.75, -0.57), (-1.25, -0.63),
    (-0.75, -0.59), (-0.25, -0.60), (0.25, -0.62), (0.75, -0.58), (1.25, -0.61), (1.75, -0.59),
    (2.25, -0.63), (2.75, -0.60), (3.25, -0.58), (3.75, -0.62), (4.25, -0.59),
    (-3.50, -0.67), (-3.00, -0.70), (-2.50, -0.66), (-2.00, -0.69), (-1.50, -0.68), (-1.00, -0.71),
    (-0.50, -0.67), (0.00, -0.69), (0.50, -0.66), (1.00, -0.70), (1.50, -0.68), (2.00, -0.70),
    (2.50, -0.67), (3.00, -0.69), (3.50, -0.66), (4.00, -0.70),
    (-3.50, -0.74), (-3.00, -0.77), (-2.50, -0.73), (-2.00, -0.76), (-1.50, -0.72), (-1.00, -0.78),
    (-0.50, -0.74), (0.00, -0.75), (0.50, -0.77), (1.00, -0.73), (1.50, -0.76), (2.00, -0.74),
    (2.50, -0.78), (3.00, -0.75), (3.50, -0.73),
    (-3.00, -0.82), (-2.50, -0.85), (-2.00, -0.81), (-1.50, -0.84), (-1.00, -0.83), (-0.50, -0.86),
    (0.00, -0.82), (0.50, -0.84), (1.00, -0.81), (1.50, -0.85), (2.00, -0.83), (2.50, -0.85), (3.00, -0.82),
    (-2.75, -0.89), (-2.25, -0.92), (-1.75, -0.88), (-1.25, -0.91), (-0.75, -0.87), (-0.25, -0.93),
    (0.25, -0.89), (0.75, -0.90), (1.25, -0.92), (1.75, -0.88), (2.25, -0.91), (2.75, -0.89), (3.25, -0.92),
    (-2.25, -0.97), (-1.75, -1.00), (-1.25, -0.96), (-0.75, -0.99), (-0.25, -0.98), (0.25, -1.01),
    (0.75, -0.97), (1.25, -0.99), (1.75, -0.96), (2.25, -1.00),
    (-1.75, -1.04), (-1.25, -1.07), (-0.75, -1.03), (-0.25, -1.06), (0.25, -1.02), (0.75, -1.08),
    (1.25, -1.04), (1.75, -1.05), (2.25, -1.07),
]

totp_xticks = [-2, -1, 0, 1, 2]
totp_xlabels = ["-2", "-1", "0", "1", "2"]
totp_yticks = [-3, -2, -1, 0, 1, 2, 3]
totp_ylabels = ["-3", "-2", "-1", "0", "1", "2", "3"]
totn_xticks = [-1.5, -1.0, -0.5, 0.0, 0.5, 1.0, 1.5]
totn_xlabels = ["-1.5", "-1.0", "-0.5", "0.0", "0.5", "1.0", "1.5"]
t_xticks = [-10, -5, 0, 5]
t_xlabels = ["-10", "-5", "0", "5"]
chl_yticks = [-4, -2, 0, 2]
chl_ylabels = ["-4", "-2", "0", "2"]

panels = [
    dict(pts=totp_pts, fit=TOTP_FIT, xlabel="log(totP) | others", xlim=(-3.0, 2.78), ylim=(-3.77, 3.94),
         xt=(totp_xticks, totp_xlabels), yt=(totp_yticks, totp_ylabels), left=58),
    dict(pts=totn_pts, fit=TOTN_FIT, xlabel="log(totN) | others", xlim=(-1.79, 1.78), ylim=(-5.09, 3.32),
         xt=(totn_xticks, totn_xlabels), yt=(chl_yticks, chl_ylabels), left=371),
    dict(pts=t_pts, fit=T_FIT, xlabel="t | others", xlim=(-12.86, 9.48), ylim=(-5.15, 3.44),
         xt=(t_xticks, t_xlabels), yt=(chl_yticks, chl_ylabels), left=684),
]

W, H = 904, 367
fig = plt.figure(figsize=(W / 100, H / 100), dpi=100)
fig.text(0.5, 1 - 15 / H, TITLE, ha="center", va="center", fontsize=13)

for p in panels:
    ax = fig.add_axes([p["left"] / W, (H - 308) / H, 231 / W, 272 / H])
    ax.set_xlim(*p["xlim"])
    ax.set_ylim(*p["ylim"])
    ax.set_xticks(p["xt"][0], p["xt"][1])
    ax.set_yticks(p["yt"][0], p["yt"][1])
    ax.grid(True, color="#d9d9d9", linewidth=0.9, zorder=0)
    ax.set_axisbelow(True)

    pts = np.array(p["pts"])
    ax.plot(pts[:, 0], pts[:, 1], "o", mfc="none", mec="black", ms=3.8, mew=0.8, zorder=2)

    b, m = p["fit"]
    ax.axline((0, b), slope=m, color="red", linewidth=1.6, zorder=3)

    for s in ax.spines.values():
        s.set_linewidth(0.8)
        s.set_color("#222222")
    ax.tick_params(axis="both", length=3.5, width=0.7, labelsize=8, color="#333333",
                   labelcolor="#222222", pad=6)
    for lab in ax.get_yticklabels():
        lab.set_rotation(90)
        lab.set_va("center")

    ax.set_xlabel(p["xlabel"], fontsize=8, color="#222222")
    ax.xaxis.set_label_coords(0.5, -0.16)
    ax.set_ylabel(Y_LABEL, fontsize=8, color="#222222")
    ax.yaxis.set_label_coords(-0.16, 0.5)

fig.savefig("out.png", dpi=100)
